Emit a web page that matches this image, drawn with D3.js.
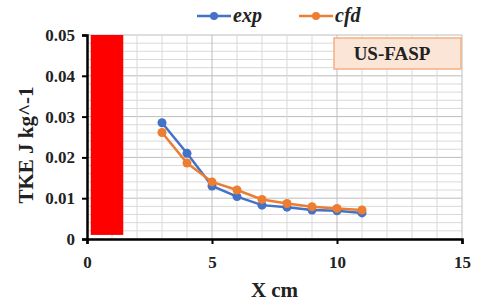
<!DOCTYPE html>
<html>
<head>
<meta charset="utf-8">
<script src="https://cdn.jsdelivr.net/npm/d3@7"></script>
<style>
  body { margin: 0; background: #fff; }
  svg text { font-family: "Liberation Serif", "Times New Roman", Times, serif; font-weight: bold; }
</style>
</head>
<body>
<svg id="chart" width="480" height="305"></svg>
<script>
const xPositions = [3, 4, 5, 6, 7, 8, 9, 10, 11]
const expValues = [0.0285, 0.0210, 0.0130, 0.0104, 0.0083, 0.0078, 0.0071, 0.0069, 0.0064]
const cfdValues = [0.0261, 0.0186, 0.0140, 0.0120, 0.0097, 0.0087, 0.0079, 0.0075, 0.0071]
const xTicks = [0, 5, 10, 15]
const yTicks = [0, 0.01, 0.02, 0.03, 0.04, 0.05]
const redZone = { x0: 0.15, x1: 1.45, y0: 0.001, y1: 0.05 }

const margin = { left: 87, right: 18, top: 35, bottom: 66 }
const width = 480
const height = 305

const svg = d3.select('#chart')

const x = d3.scaleLinear().domain([0, 15]).range([margin.left, width - margin.right])
const y = d3.scaleLinear().domain([0, 0.05]).range([height - margin.bottom, margin.top])

// minor grid
const grid = svg.append('g')
grid.selectAll('line.h')
  .data(d3.range(0, 0.0501, 0.002))
  .enter().append('line')
  .attr('x1', x(0)).attr('x2', x(15))
  .attr('y1', d => y(d)).attr('y2', d => y(d))
  .attr('stroke', (d, i) => i % 5 === 0 ? '#bdbdbd' : '#d9d9d9')
  .attr('stroke-width', 1)
grid.selectAll('line.v')
  .data(d3.range(1, 16, 1))
  .enter().append('line')
  .attr('y1', y(0)).attr('y2', y(0.05))
  .attr('x1', d => x(d)).attr('x2', d => x(d))
  .attr('stroke', (d) => d % 5 === 0 ? '#bdbdbd' : '#d9d9d9')
  .attr('stroke-width', 1)

// red inlet block
svg.append('rect')
  .attr('x', x(redZone.x0))
  .attr('y', y(redZone.y1))
  .attr('width', x(redZone.x1) - x(redZone.x0))
  .attr('height', y(redZone.y0) - y(redZone.y1))
  .attr('fill', '#ff0000')

// axes
const yAxis = svg.append('g')
  .attr('transform', `translate(${x(0)},0)`)
  .call(d3.axisLeft(y).tickValues(yTicks).tickSize(5).tickPadding(7)
    .tickFormat(d => d === 0 ? '0' : d3.format('.2f')(d)))
yAxis.attr('font-family', null).attr('font-size', null)
yAxis.select('.domain').attr('stroke', '#000').attr('stroke-width', 2.5)
yAxis.selectAll('.tick line').attr('stroke', '#000').attr('stroke-width', 2)
yAxis.selectAll('.tick text').attr('font-size', 17).attr('fill', '#222')

const xAxis = svg.append('g')
  .attr('transform', `translate(0,${y(0)})`)
  .call(d3.axisBottom(x).tickValues(xTicks).tickSize(5).tickPadding(12))
xAxis.attr('font-family', null).attr('font-size', null)
xAxis.select('.domain').attr('stroke', '#000').attr('stroke-width', 2.5)
xAxis.selectAll('.tick line').attr('stroke', '#000').attr('stroke-width', 2)
xAxis.selectAll('.tick text').attr('font-size', 17).attr('fill', '#222')

// series
const series = [
  { name: 'exp', values: expValues, color: '#4472c4' },
  { name: 'cfd', values: cfdValues, color: '#ed7d31' }
]
const line = d3.line().x(d => x(d[0])).y(d => y(d[1]))

series.forEach(s => {
  const pts = xPositions.map((p, i) => [p, s.values[i]])
  svg.append('path')
    .datum(pts)
    .attr('d', line)
    .attr('fill', 'none')
    .attr('stroke', s.color)
    .attr('stroke-width', 2.5)
  svg.append('g').selectAll('circle')
    .data(pts)
    .enter().append('circle')
    .attr('cx', d => x(d[0]))
    .attr('cy', d => y(d[1]))
    .attr('r', 4.5)
    .attr('fill', s.color)
})

// legend
const legend = svg.append('g')
series.forEach((s, i) => {
  const lx = 197 + i * 102
  legend.append('line')
    .attr('x1', lx).attr('x2', lx + 34)
    .attr('y1', 16).attr('y2', 16)
    .attr('stroke', s.color).attr('stroke-width', 2.5)
  legend.append('circle')
    .attr('cx', lx + 17).attr('cy', 16).attr('r', 4)
    .attr('fill', s.color)
  legend.append('text')
    .attr('x', lx + 36).attr('y', 22)
    .attr('font-size', 20).attr('font-style', 'italic')
    .attr('fill', '#222')
    .text(s.name)
})

// label box
svg.append('rect')
  .attr('x', 334).attr('y', 38).attr('width', 127).attr('height', 31)
  .attr('fill', '#fbe5d6').attr('stroke', '#f4b183').attr('stroke-width', 1.5)
svg.append('text')
  .attr('x', 392).attr('y', 60).attr('text-anchor', 'middle')
  .attr('font-size', 19).attr('fill', '#222')
  .text('US-FASP')

// axis titles
svg.append('text')
  .attr('transform', 'translate(33,145) rotate(-90)')
  .attr('text-anchor', 'middle')
  .attr('font-size', 21).attr('fill', '#222')
  .text('TKE J kg^-1')
svg.append('text')
  .attr('x', x(7.5)).attr('y', 297)
  .attr('text-anchor', 'middle')
  .attr('font-size', 21).attr('fill', '#222')
  .text('X cm')
</script>
</body>
</html>
